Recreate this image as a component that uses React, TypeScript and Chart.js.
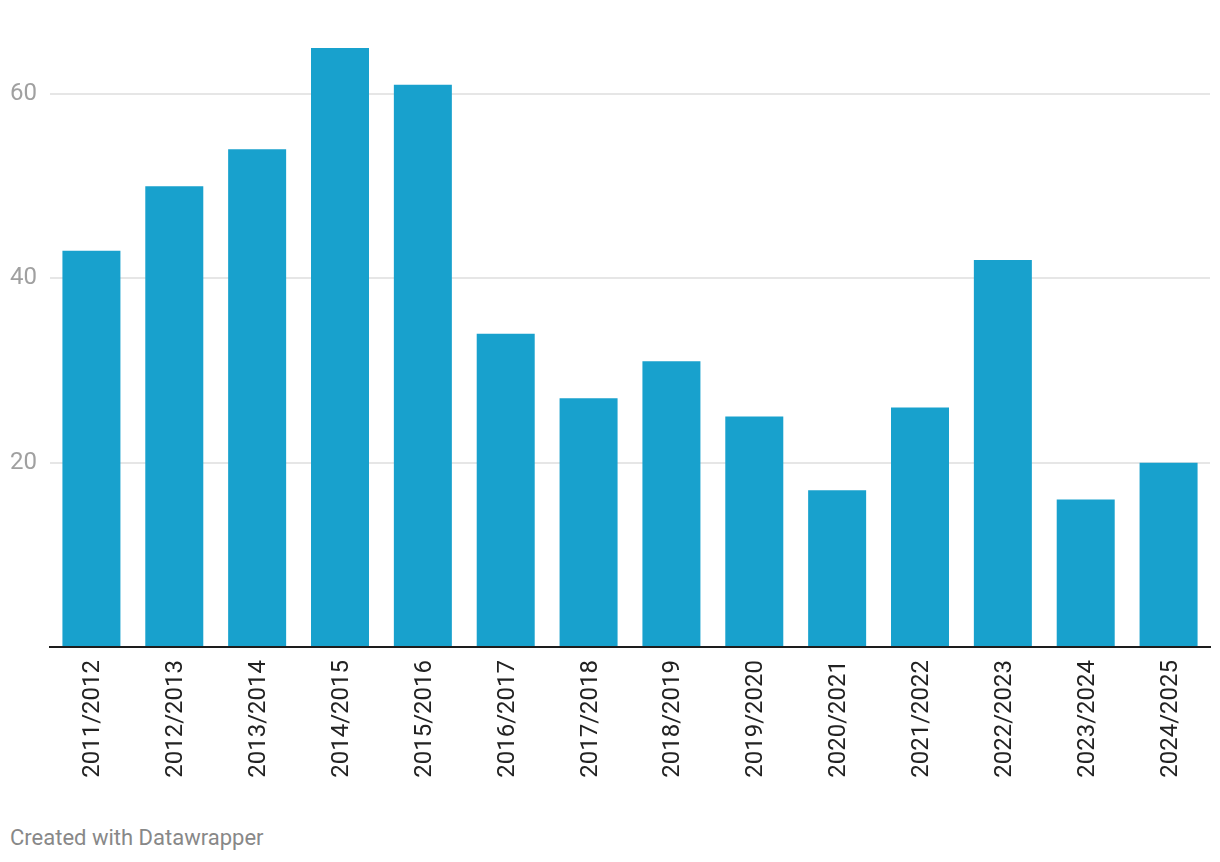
import React, { useEffect, useRef } from "react";
import { Chart, registerables } from "chart.js";

Chart.register(...registerables);

const categories = [
  "2011/2012", "2012/2013", "2013/2014", "2014/2015", "2015/2016", "2016/2017", "2017/2018",
  "2018/2019", "2019/2020", "2020/2021", "2021/2022", "2022/2023", "2023/2024", "2024/2025",
];
const values = [43, 50, 54, 65, 61, 34, 27, 31, 25, 17, 26, 42, 16, 20];
const yTicks = [0, 20, 40, 60];

export default function App() {
  const ref = useRef<HTMLCanvasElement>(null);

  useEffect(() => {
    document.body.style.margin = "0";
    const chart = new Chart(ref.current!, {
      type: "bar",
      data: {
        labels: categories,
        datasets: [
          {
            data: values,
            backgroundColor: "#18a1cd",
            borderWidth: 0,
            barPercentage: 0.7,
            categoryPercentage: 1,
          },
        ],
      },
      options: {
        animation: false,
        responsive: false,
        maintainAspectRatio: false,
        layout: { padding: { top: 48, right: 10, bottom: 0, left: 0 } },
        plugins: { legend: { display: false }, tooltip: { enabled: false } },
        scales: {
          x: {
            grid: { display: false, drawTicks: false },
            border: { display: true, color: "#1d1d1d", width: 2 },
            ticks: {
              color: "#222222",
              font: { family: "Roboto", size: 24 },
              maxRotation: 90,
              minRotation: 90,
              padding: 13,
              labelOffset: 2,
              autoSkip: false,
            },
            afterFit: (s: any) => {
              s.height = 800 - 647;
            },
          },
          y: {
            min: 0,
            max: 65,
            afterBuildTicks: (s: any) => {
              s.ticks = yTicks.map((v) => ({ value: v }));
            },
            afterFit: (s: any) => {
              s.width = 50;
            },
            grid: { color: "#e6e6e6", lineWidth: 2, drawTicks: false },
            border: { display: false },
            ticks: {
              color: "#a0a0a0",
              font: { family: "Roboto", size: 24 },
              padding: 13,
              callback: (v: any) => (v === 0 ? "" : String(v)),
            },
          },
        },
      },
    });
    return () => chart.destroy();
  }, []);

  return (
    <div style={{ position: "relative", width: 1220, height: 862, background: "#fff" }}>
      <canvas ref={ref} width={1220} height={800} style={{ position: "absolute", left: 0, top: 0 }} />
      <div
        style={{
          position: "absolute",
          left: 10,
          top: 824,
          fontFamily: "Roboto",
          fontSize: 22,
          lineHeight: "28px",
          color: "#888888",
          whiteSpace: "nowrap",
        }}
      >
        Created with Datawrapper
      </div>
    </div>
  );
}
